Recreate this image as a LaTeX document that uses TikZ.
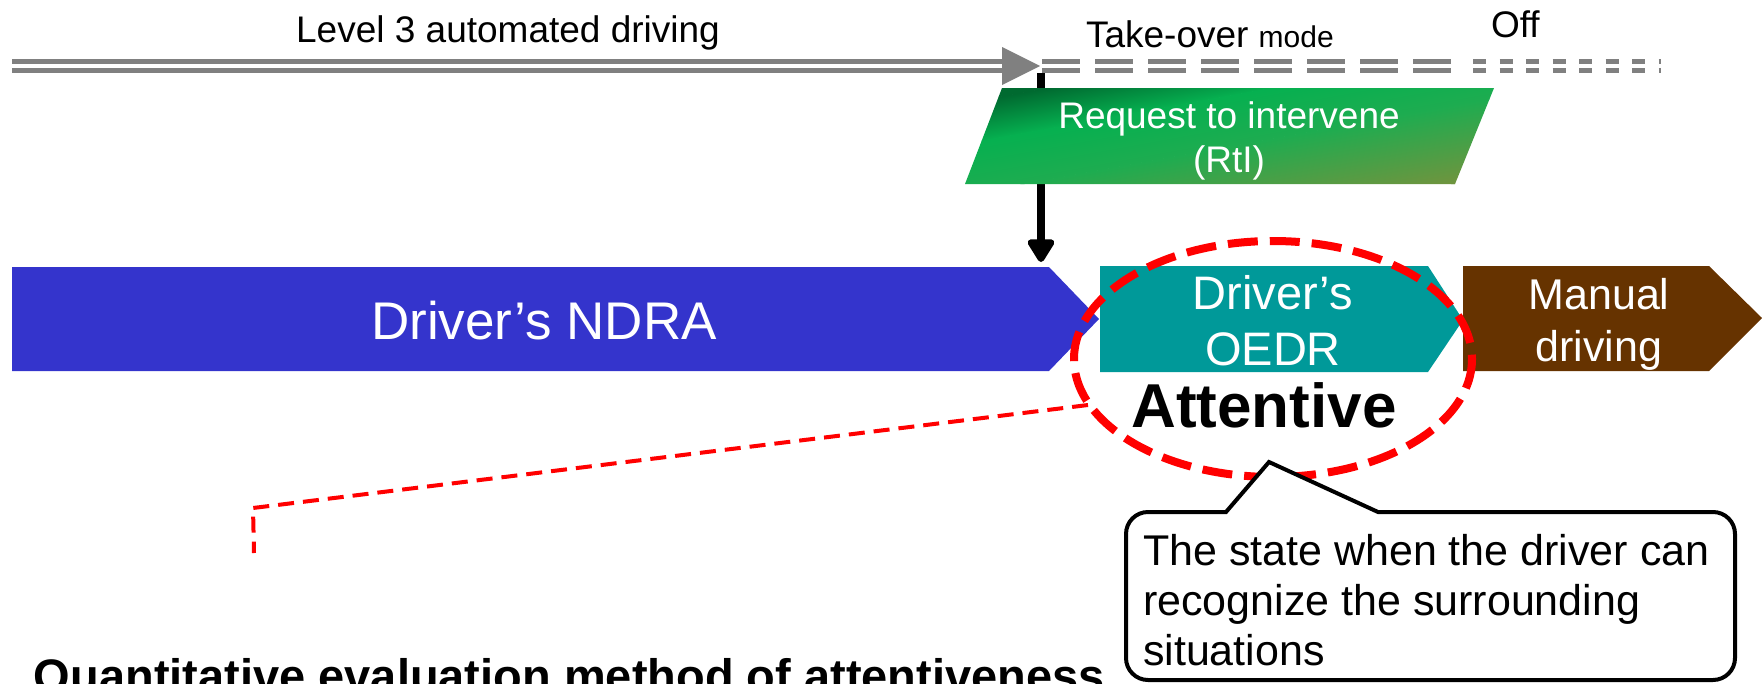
\documentclass[tikz,border=0pt]{standalone}
\usepackage{fontspec}
\setmainfont{Liberation Sans}
\usetikzlibrary{arrows.meta}

\definecolor{linegrey}{RGB}{128,128,128}
\definecolor{ndrablue}{RGB}{52,52,204}
\definecolor{oedrteal}{RGB}{0,153,153}
\definecolor{manbrown}{RGB}{102,51,0}
\definecolor{rtidark}{RGB}{0,106,48}
\definecolor{rtimid}{RGB}{6,176,80}
\definecolor{rtimidb}{RGB}{30,172,80}
\definecolor{rtiolive}{RGB}{112,148,62}
\definecolor{attred}{RGB}{255,0,0}

\tikzset{
  txt/.style={inner sep=0pt, outer sep=0pt},
  smalllbl/.style={txt, font=\fontsize{37}{44}\selectfont},
  greyrail/.style={draw=linegrey, line width=4.5pt},
  whitetxt/.style={txt, text=white},
  attring/.style={draw=attred, line width=8pt, dash pattern=on 30pt off 12pt},
  attlink/.style={draw=attred, line width=4pt, dash pattern=on 16pt off 9pt},
  calloutbox/.style={draw=black, fill=white, line width=4pt, line join=miter},
  calltxt/.style={txt, font=\fontsize{43}{51}\selectfont, anchor=base west},
}

\begin{document}
\begin{tikzpicture}[x=1pt, y=-1pt]
\useasboundingbox (0,0) rectangle (1762,683);
\clip (0,0) rectangle (1762,683);

% automation rail: solid double line, arrow head, dashed continuation
\draw[greyrail] (12,61.7) -- (1004,61.7);
\draw[greyrail] (12,70.5) -- (1004,70.5);
\fill[linegrey] (1002,47) -- (1040,66) -- (1002,85) -- cycle;
\draw[greyrail, dash pattern=on 38pt off 15pt] (1042,61.7) -- (1452,61.7);
\draw[greyrail, dash pattern=on 38pt off 15pt] (1042,70.5) -- (1452,70.5);
\draw[greyrail, dash pattern=on 13pt off 13.5pt] (1473,61.7) -- (1661,61.7);
\draw[greyrail, dash pattern=on 13pt off 13.5pt] (1473,70.5) -- (1661,70.5);

\node[smalllbl, anchor=base] (lvl3) at (508,42) {Level 3 automated driving};
\node[smalllbl, anchor=base west] (tom) at (1086,47) {Take-over {\fontsize{30}{36}\selectfont mode}};
\node[smalllbl, anchor=base west] (off) at (1491,37) {Off};

% request to intervene
\coordinate (rtitop) at (1041,73);
\coordinate (rtiend) at (1041,262);
\draw[line width=8pt, -{Triangle[length=26pt, width=30pt, round]}] (rtitop) -- (rtiend);

% parallelogram with a diagonal gradient (bands laid out along the gradient axis)
\begin{scope}
  \clip (1002,88) -- (1494,88) -- (1455,184) -- (965,184) -- cycle;
  \begin{scope}[transform canvas={shift={(1002,88)}, rotate=-79.7}]
    \fill[rtidark] (-30,-520) rectangle (8.5,80);
    \shade[left color=rtidark, right color=rtimid] (8,-520) rectangle (48.5,80);
    \shade[left color=rtimid, right color=rtimidb] (48,-520) rectangle (98.5,80);
    \shade[left color=rtimidb, right color=rtiolive] (98,-520) rectangle (175.5,80);
    \fill[rtiolive] (175,-520) rectangle (200,80);
  \end{scope}
\end{scope}
\node[smalllbl, text=white, anchor=base] (rti1) at (1229,128) {Request to intervene};
\node[smalllbl, text=white, anchor=base] (rti2) at (1229,172) {(RtI)};

% driver phases
\fill[ndrablue] (12,267) -- (1049,267) -- (1099,319) -- (1049,371) -- (12,371) -- cycle;
\fill[oedrteal] (1100,266) -- (1428,266) -- (1463,320) -- (1428,372) -- (1100,372) -- cycle;
\fill[manbrown] (1463,266) -- (1709,266) -- (1762,318) -- (1709,371) -- (1463,371) -- cycle;

\node[whitetxt, font=\fontsize{53}{64}\selectfont, anchor=base] (ndra) at (544,339) {Driver’s NDRA};
\node[whitetxt, font=\fontsize{47}{56}\selectfont, anchor=base] (oedr1) at (1273,309) {Driver’s};
\node[whitetxt, font=\fontsize{47}{56}\selectfont, anchor=base] (oedr2) at (1273,365) {OEDR};
\node[whitetxt, font=\fontsize{43}{52}\selectfont, anchor=base] (man1) at (1599,309) {Manual};
\node[whitetxt, font=\fontsize{43}{52}\selectfont, anchor=base] (man2) at (1599,361) {driving};

\node[txt, font=\bfseries\fontsize{62}{74}\selectfont, anchor=base] (att) at (1264,427) {Attentive};

% attentive highlight and its link
\draw[attring] (1273,359) ellipse [x radius=199, y radius=118];
\coordinate (linkstart) at (1088,405);
\coordinate (linkkink) at (253,508);
\coordinate (linkend) at (254,553);
\draw[attlink] (linkstart) -- (linkkink) -- (linkend);

% explanation callout
\coordinate (ptrleft) at (1226,512);
\coordinate (ptrtip) at (1269,462);
\coordinate (ptrright) at (1378,512);
\draw[calloutbox] (ptrleft) -- (ptrtip) -- (ptrright) -- (1713,512)
  arc[start angle=270, end angle=360, radius=22] -- (1735,658)
  arc[start angle=0, end angle=90, radius=22] -- (1148,680)
  arc[start angle=90, end angle=180, radius=22] -- (1126,534)
  arc[start angle=180, end angle=270, radius=22] -- cycle;
\node[calltxt] (cl1) at (1143,565) {The state when the driver can};
\node[calltxt] (cl2) at (1143,615) {recognize the surrounding};
\node[calltxt] (cl3) at (1143,665) {situations};

\node[txt, font=\bfseries\fontsize{47}{56}\selectfont, anchor=base west] (title) at (34,692) {Quantitative evaluation method of attentiveness};
\end{tikzpicture}
\end{document}
